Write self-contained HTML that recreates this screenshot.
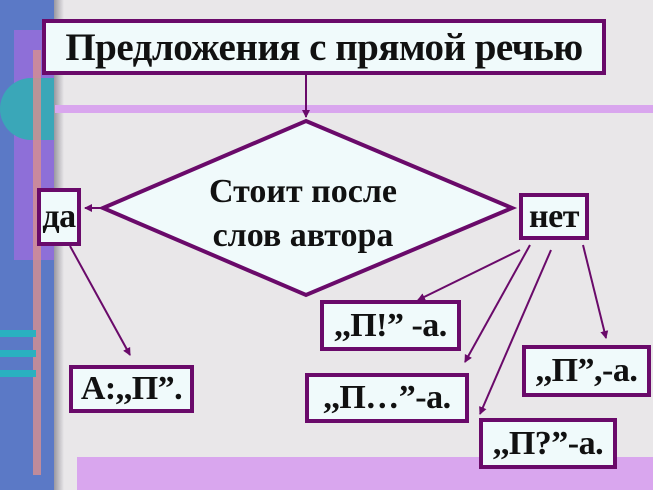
<!DOCTYPE html>
<html><head><meta charset="utf-8"><style>
body{margin:0;width:653px;height:490px;overflow:hidden;background:#e9e7e9;position:relative;font-family:"Liberation Serif",serif;}
.b{position:absolute;box-sizing:border-box;border:4px solid #6a0a6a;background:#f0fafb;font-weight:bold;color:#111;display:flex;align-items:center;justify-content:center;white-space:nowrap;letter-spacing:-0.5px;}
</style></head><body>
<div style="position:absolute;left:0;top:0;width:54px;height:490px;background:#5b79c6"></div>
<div style="position:absolute;left:14px;top:30px;width:40px;height:230px;background:#8e6fd8"></div>
<div style="position:absolute;left:0;top:78px;width:54px;height:62px;background:#3aa7b8;border-radius:31px 0 0 31px"></div>
<div style="position:absolute;left:33px;top:50px;width:8px;height:425px;background:#d89090;opacity:.8"></div>
<div style="position:absolute;left:0;top:330px;width:36px;height:7px;background:#2ab0c0"></div>
<div style="position:absolute;left:0;top:350px;width:36px;height:7px;background:#2ab0c0"></div>
<div style="position:absolute;left:0;top:370px;width:36px;height:7px;background:#2ab0c0"></div>
<div style="position:absolute;left:54px;top:0;width:10px;height:490px;background:linear-gradient(90deg,#9a98a0,#e9e7e9)"></div>
<div style="position:absolute;left:55px;top:105px;width:598px;height:8px;background:#d9a6ee"></div>
<div style="position:absolute;left:77px;top:457px;width:576px;height:33px;background:#d9a6ee"></div>
<svg width="653" height="490" style="position:absolute;left:0;top:0">
<defs><marker id="a" markerWidth="8" markerHeight="8" refX="7" refY="4" orient="auto" markerUnits="userSpaceOnUse"><path d="M0,0L8,4L0,8z" fill="#6a0a6a"/></marker></defs>
<g stroke="#6a0a6a" stroke-width="2" fill="none">
<line x1="306" y1="75" x2="306" y2="117" marker-end="url(#a)"/>
<line x1="70" y1="246" x2="130" y2="355" marker-end="url(#a)"/>
<line x1="520" y1="250" x2="418" y2="300" marker-end="url(#a)"/>
<line x1="530" y1="245" x2="465" y2="362" marker-end="url(#a)"/>
<line x1="551" y1="250" x2="480" y2="414" marker-end="url(#a)"/>
<line x1="583" y1="245" x2="606" y2="338" marker-end="url(#a)"/>
<line x1="103" y1="208" x2="85" y2="208" marker-end="url(#a)"/>
</g>
<polygon points="306,121 512,208 306,295 103,208" fill="#f0fafb" stroke="#6a0a6a" stroke-width="4"/>
<text x="303" y="202" text-anchor="middle" font-family="Liberation Serif" font-weight="bold" font-size="34" fill="#111">Стоит после</text>
<text x="303" y="246" text-anchor="middle" font-family="Liberation Serif" font-weight="bold" font-size="34" fill="#111">слов автора</text>
</svg>
<div class="b" style="left:42px;top:19px;width:564px;height:56px;font-size:39px">Предложения с прямой речью</div>
<div class="b" style="left:37px;top:188px;width:44px;height:58px;font-size:34px">да</div>
<div class="b" style="left:519px;top:193px;width:70px;height:47px;font-size:34px">нет</div>
<div class="b" style="left:69px;top:365px;width:125px;height:48px;font-size:34px">А:,,П”.</div>
<div class="b" style="left:320px;top:300px;width:141px;height:51px;font-size:34px">,,П!” -а.</div>
<div class="b" style="left:305px;top:373px;width:164px;height:50px;font-size:34px">,,П…”-а.</div>
<div class="b" style="left:522px;top:345px;width:129px;height:52px;font-size:34px">,,П”,-а.</div>
<div class="b" style="left:479px;top:418px;width:138px;height:51px;font-size:34px">,,П?”-а.</div>
</body></html>
